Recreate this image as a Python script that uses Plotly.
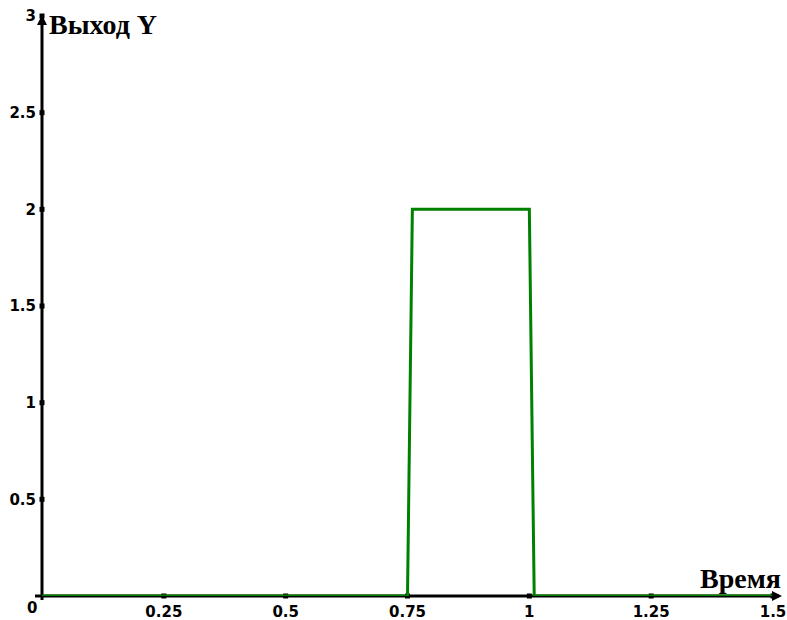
import plotly.graph_objects as go

# Data
time_pts = [0, 0.75, 0.76, 1.0, 1.01, 1.5]
y_pts = [0, 0, 2, 2, 0, 0]
x_ticks = [0.25, 0.5, 0.75, 1, 1.25, 1.5]
x_tick_labels = ["0.25", "0.5", "0.75", "1", "1.25", "1.5"]
y_ticks = [0.5, 1, 1.5, 2, 2.5, 3]
y_tick_labels = ["0.5", "1", "1.5", "2", "2.5", "3"]

W, H = 787, 620
L, R, T, B = 42, 14, 16, 24
pw, ph = W - L - R, H - T - B

fig = go.Figure()

# axis lines (drawn first, under the series)
fig.add_shape(type="line", xref="paper", yref="paper",
              x0=-7 / pw, x1=1 + 6 / pw, y0=0, y1=0,
              line=dict(color="black", width=3), layer="below")
fig.add_shape(type="line", xref="paper", yref="paper",
              x0=0, x1=0, y0=-4 / ph, y1=1 - 2 / ph,
              line=dict(color="black", width=3), layer="below")

# tick dots
fig.add_trace(go.Scatter(x=x_ticks, y=[0] * len(x_ticks), mode="markers",
                         marker=dict(color="black", size=5, symbol="square"),
                         cliponaxis=False, showlegend=False, hoverinfo="skip"))
fig.add_trace(go.Scatter(x=[0] * len(y_ticks), y=y_ticks, mode="markers",
                         marker=dict(color="black", size=5, symbol="square"),
                         cliponaxis=False, showlegend=False, hoverinfo="skip"))

# series
fig.add_trace(go.Scatter(x=time_pts, y=y_pts, mode="lines",
                         line=dict(color="#008000", width=3),
                         cliponaxis=False, showlegend=False))

# arrow heads
fig.add_annotation(xref="paper", yref="paper", x=1 + 9 / pw, y=0,
                   ax=-10, ay=0, axref="pixel", ayref="pixel",
                   showarrow=True, arrowhead=2, arrowsize=1, arrowwidth=2,
                   arrowcolor="black", text="")
fig.add_annotation(xref="paper", yref="paper", x=0, y=1 + 1 / ph,
                   ax=0, ay=10, axref="pixel", ayref="pixel",
                   showarrow=True, arrowhead=2, arrowsize=1, arrowwidth=2,
                   arrowcolor="black", text="")

# axis titles
fig.add_annotation(xref="paper", yref="paper", x=5 / pw, y=1 - 9 / ph,
                   xanchor="left", yanchor="middle", showarrow=False,
                   text="Выход Y",
                   font=dict(family="Liberation Serif", size=28, color="black", weight="bold"))
fig.add_annotation(xref="paper", yref="paper", x=1 + 10 / pw, y=18 / ph,
                   xanchor="right", yanchor="middle", showarrow=False,
                   text="Время",
                   font=dict(family="Liberation Serif", size=28, color="black", weight="bold"))
# origin label
fig.add_annotation(xref="paper", yref="paper", x=-3 / pw, y=-12 / ph,
                   xanchor="right", yanchor="middle", showarrow=False,
                   text="0",
                   font=dict(family="DejaVu Sans", size=15, color="black", weight="bold"))

tickfont = dict(family="DejaVu Sans", size=15, color="black", weight="bold")
fig.update_xaxes(range=[0, 1.5], tickvals=x_ticks, ticktext=x_tick_labels,
                 showgrid=False, zeroline=False, showline=False, ticks="",
                 tickfont=tickfont, automargin=False, ticklabelstandoff=5)
fig.update_yaxes(range=[0, 3], tickvals=y_ticks, ticktext=y_tick_labels,
                 showgrid=False, zeroline=False, showline=False, ticks="",
                 tickfont=tickfont, automargin=False, ticklabelstandoff=5)

fig.update_layout(width=W, height=H, margin=dict(l=L, r=R, t=T, b=B, pad=0, autoexpand=False),
                  plot_bgcolor="white", paper_bgcolor="white")

fig.write_html("out.html", config={"displayModeBar": False},
               post_script="document.body.style.margin='0';document.body.style.overflow='hidden';")
